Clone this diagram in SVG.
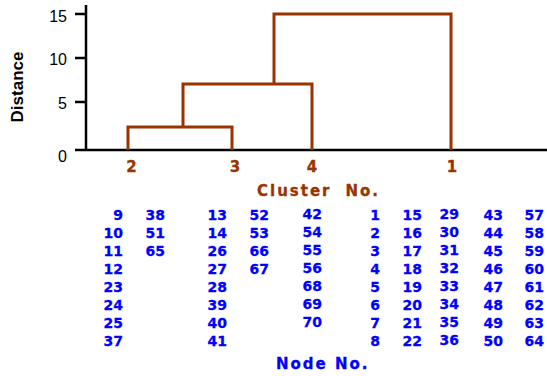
<svg xmlns="http://www.w3.org/2000/svg" width="547" height="376" viewBox="0 0 547 376">
  <style>
    .axis { stroke: #000; stroke-width: 2.5; fill: none; }
    .link { stroke: #993300; stroke-width: 3; fill: none; }
    .tick { font-family: "Liberation Sans", Arial, sans-serif; font-size: 16px; fill: #000; text-anchor: end; }
    .ytitle { font-family: "Liberation Sans", Arial, sans-serif; font-size: 17px; font-weight: bold; fill: #000; text-anchor: middle; }
    .clab { font-family: "DejaVu Sans", sans-serif; font-size: 15px; font-weight: bold; fill: #993300; stroke: #993300; stroke-width: 0.3; text-anchor: middle; }
    .ctitle { font-family: "DejaVu Sans", sans-serif; font-size: 15px; font-weight: bold; fill: #993300; stroke: #993300; stroke-width: 0.3; letter-spacing: 2px; }
    .node { font-family: "DejaVu Sans", sans-serif; font-size: 14px; font-weight: bold; fill: #0000ff; stroke: #0000ff; stroke-width: 0.3; text-anchor: end; }
    .ntitle { font-family: "DejaVu Sans", sans-serif; font-size: 15px; font-weight: bold; fill: #0000ff; stroke: #0000ff; stroke-width: 0.3; letter-spacing: 2px; }
  </style>

  <!-- axes -->
  <g id="axes">
    <path class="axis" d="M86,5 V150 M75,150 H547 M75,14 H86 M75,58 H86 M75,102 H86"/>
    <text class="tick" x="67" y="22">15</text>
    <text class="tick" x="67" y="65">10</text>
    <text class="tick" x="67" y="109">5</text>
    <text class="tick" x="67" y="162">0</text>
    <text class="ytitle" transform="translate(23,87) rotate(-90)">Distance</text>
  </g>

  <!-- dendrogram links -->
  <g id="links">
    <path class="link" d="M128,150 V127 H232 V150"/>
    <path class="link" d="M183,127 V84 H312 V150"/>
    <path class="link" d="M274,84 V14 H451 V150"/>
  </g>

  <!-- cluster labels -->
  <g id="cluster-labels">
    <text class="clab" x="131.5" y="172">2</text>
    <text class="clab" x="235" y="172">3</text>
    <text class="clab" x="312" y="172">4</text>
    <text class="clab" x="452" y="172">1</text>
    <text class="ctitle" x="257" y="196">Cluster<tspan dx="14">No.</tspan></text>
  </g>

  <!-- cluster 2 members -->
  <g id="cluster2-nodes">
    <text class="node" x="123" y="220">9</text>
    <text class="node" x="123" y="238">10</text>
    <text class="node" x="123" y="256">11</text>
    <text class="node" x="123" y="274">12</text>
    <text class="node" x="123" y="292">23</text>
    <text class="node" x="123" y="310">24</text>
    <text class="node" x="123" y="328">25</text>
    <text class="node" x="123" y="346">37</text>
    <text class="node" x="165" y="220">38</text>
    <text class="node" x="165" y="238">51</text>
    <text class="node" x="165" y="256">65</text>
  </g>

  <!-- cluster 3 members -->
  <g id="cluster3-nodes">
    <text class="node" x="227" y="220">13</text>
    <text class="node" x="227" y="238">14</text>
    <text class="node" x="227" y="256">26</text>
    <text class="node" x="227" y="274">27</text>
    <text class="node" x="227" y="292">28</text>
    <text class="node" x="227" y="310">39</text>
    <text class="node" x="227" y="328">40</text>
    <text class="node" x="227" y="346">41</text>
    <text class="node" x="269" y="220">52</text>
    <text class="node" x="269" y="238">53</text>
    <text class="node" x="269" y="256">66</text>
    <text class="node" x="269" y="274">67</text>
  </g>

  <!-- cluster 4 members -->
  <g id="cluster4-nodes">
    <text class="node" x="322" y="219">42</text>
    <text class="node" x="322" y="237">54</text>
    <text class="node" x="322" y="255">55</text>
    <text class="node" x="322" y="273">56</text>
    <text class="node" x="322" y="291">68</text>
    <text class="node" x="322" y="309">69</text>
    <text class="node" x="322" y="327">70</text>
  </g>

  <!-- cluster 1 members -->
  <g id="cluster1-nodes">
    <text class="node" x="380" y="220">1</text>
    <text class="node" x="380" y="238">2</text>
    <text class="node" x="380" y="256">3</text>
    <text class="node" x="380" y="274">4</text>
    <text class="node" x="380" y="292">5</text>
    <text class="node" x="380" y="310">6</text>
    <text class="node" x="380" y="328">7</text>
    <text class="node" x="380" y="346">8</text>
    <text class="node" x="422" y="220">15</text>
    <text class="node" x="422" y="238">16</text>
    <text class="node" x="422" y="256">17</text>
    <text class="node" x="422" y="274">18</text>
    <text class="node" x="422" y="292">19</text>
    <text class="node" x="422" y="310">20</text>
    <text class="node" x="422" y="328">21</text>
    <text class="node" x="422" y="346">22</text>
    <text class="node" x="459" y="219">29</text>
    <text class="node" x="459" y="237">30</text>
    <text class="node" x="459" y="255">31</text>
    <text class="node" x="459" y="273">32</text>
    <text class="node" x="459" y="291">33</text>
    <text class="node" x="459" y="309">34</text>
    <text class="node" x="459" y="327">35</text>
    <text class="node" x="459" y="345">36</text>
    <text class="node" x="503" y="220">43</text>
    <text class="node" x="503" y="238">44</text>
    <text class="node" x="503" y="256">45</text>
    <text class="node" x="503" y="274">46</text>
    <text class="node" x="503" y="292">47</text>
    <text class="node" x="503" y="310">48</text>
    <text class="node" x="503" y="328">49</text>
    <text class="node" x="503" y="346">50</text>
    <text class="node" x="544" y="220">57</text>
    <text class="node" x="544" y="238">58</text>
    <text class="node" x="544" y="256">59</text>
    <text class="node" x="544" y="274">60</text>
    <text class="node" x="544" y="292">61</text>
    <text class="node" x="544" y="310">62</text>
    <text class="node" x="544" y="328">63</text>
    <text class="node" x="544" y="346">64</text>
  </g>

  <text class="ntitle" x="276" y="369">Node No.</text>
</svg>
